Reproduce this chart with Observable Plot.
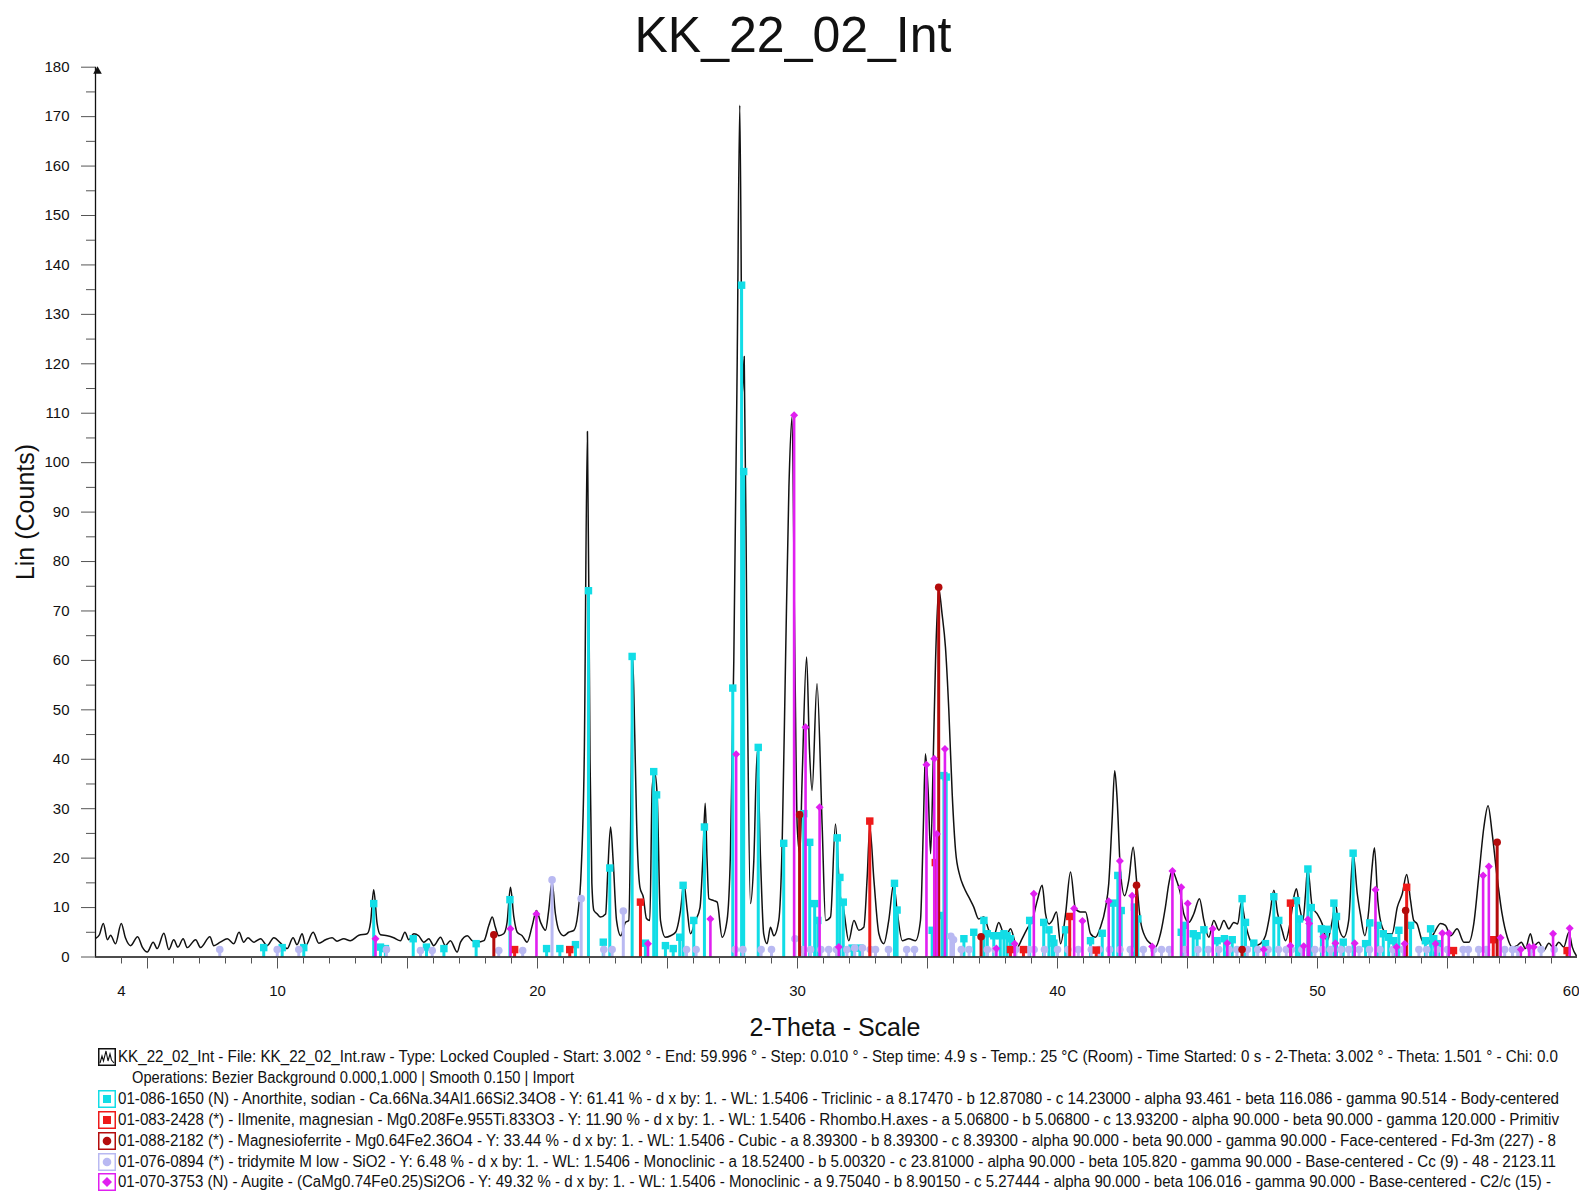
<!DOCTYPE html>
<html>
<head>
<meta charset="utf-8">
<script src="https://cdn.jsdelivr.net/npm/d3@7"></script>
<script src="https://cdn.jsdelivr.net/npm/@observablehq/plot@0.6"></script>
<style>
  body { margin: 0; background: #fff; }
  #page { position: relative; width: 1579px; height: 1194px; overflow: hidden; font-family: "Liberation Sans", Arial, sans-serif; color: #111; background: #fff; }
  #page svg.chart { position: absolute; left: 0; top: 0; }
  .title { position: absolute; left: 0; width: 1586px; top: 10px; text-align: center; font-size: 50px; line-height: 50px; }
  .ytitle { position: absolute; left: 25px; top: 512px; font-size: 25px; line-height: 25px; white-space: nowrap; transform: translate(-50%, -50%) rotate(-90deg); }
  .xtitle { position: absolute; left: 0; width: 1670px; top: 1015px; text-align: center; font-size: 25px; line-height: 25px; }
  .leg { position: absolute; white-space: nowrap; font-size: 16px; line-height: 20px; transform-origin: 0 50%; }
  .icon { position: absolute; }
</style>
</head>
<body>
<div id="page"></div>
<script>
// ---------- DATA ----------
// measured pattern: [2-theta, counts]
const pattern = [
[3.02,3.8],[3.15,4.5],[3.3,6.8],[3.46,3.5],[3.58,4.4],[3.77,2.7],[3.99,6.8],[4.15,3.9],[4.35,2.3],[4.62,4.1],[4.8,2.0],[4.99,1.0],
[5.22,3.0],[5.37,1.7],[5.63,4.8],[5.82,1.5],[6.01,3.5],[6.17,2.0],[6.37,3.7],[6.53,1.9],[6.85,3.5],[7.04,1.9],[7.4,4.1],[7.55,2.3],
[7.8,3.0],[8.07,3.7],[8.32,2.7],[8.52,5.0],[8.7,3.0],[8.86,3.9],[9.09,3.0],[9.35,3.7],[9.6,2.3],[9.86,3.9],[10.12,2.8],[10.37,1.7],
[10.6,3.9],[10.75,2.5],[10.95,4.7],[11.08,2.3],[11.37,5.0],[11.59,2.8],[11.85,3.5],[12.1,3.9],[12.29,3.2],[12.55,3.7],[12.8,3.3],
[13.13,4.4],[13.45,4.7],[13.58,7.0],[13.7,13.6],[13.83,6.8],[13.96,4.5],[14.22,4.3],[14.47,3.9],[14.73,3.3],[14.9,5.0],[15.05,3.5],
[15.24,4.7],[15.43,4.3],[15.63,3.0],[15.82,3.7],[16.01,2.3],[16.27,4.0],[16.46,2.3],[16.65,3.3],[16.91,1.0],[17.04,3.0],[17.3,4.3],
[17.49,3.3],[17.68,3.0],[17.94,3.3],[18.13,6.4],[18.26,8.1],[18.38,6.0],[18.51,4.3],[18.7,4.7],[18.83,7.0],[18.96,14.1],[19.09,8.1],
[19.22,5.0],[19.41,4.3],[19.6,3.0],[19.8,6.4],[19.96,9.4],[20.12,7.0],[20.31,5.4],[20.43,9.4],[20.56,15.1],[20.69,8.7],[20.82,5.4],
[21.01,4.3],[21.2,5.0],[21.4,5.4],[21.55,8.7],[21.68,17.5],[21.8,41],[21.92,106.3],[22.02,40],[22.09,15],[22.17,9.4],[22.3,8.7],
[22.42,8.1],[22.62,8.7],[22.7,16.9],[22.81,26.3],[22.91,19.5],[23.04,7.4],[23.2,4.3],[23.38,7.0],[23.51,7.4],[23.6,34],[23.66,60.7],
[23.74,45],[23.81,27.6],[23.94,14.1],[24.07,12.1],[24.19,7.8],[24.32,7.4],[24.41,34],[24.5,37.4],[24.6,33],[24.73,7.4],[24.92,4.0],
[25.12,4.3],[25.31,5.0],[25.5,9.4],[25.63,14.8],[25.76,9.4],[25.88,4.7],[26.08,7.4],[26.25,10],[26.36,20],[26.45,31.1],[26.52,20],
[26.59,11.8],[26.78,11.4],[26.91,11.1],[27.1,4.0],[27.29,7.4],[27.42,20.9],[27.55,60],[27.68,120],[27.78,172.3],[27.88,114],
[27.95,121.5],[28.06,60],[28.19,10.8],[28.32,19.5],[28.45,41.5],[28.58,19.5],[28.7,4.7],[28.83,2.7],[28.96,6.0],[29.09,4.3],
[29.28,7.4],[29.41,22.9],[29.54,60],[29.67,95],[29.79,109.2],[29.9,60],[29.99,26.3],[30.09,20.9],[30.18,36.4],[30.35,60.7],
[30.46,42],[30.56,33.7],[30.75,55.3],[30.95,26.3],[31.08,7.4],[31.27,8.1],[31.46,26.9],[31.63,12.8],[31.78,9.4],[31.97,3.3],
[32.17,7.4],[32.36,5.4],[32.55,6.0],[32.68,16.1],[32.78,26.3],[32.94,15.5],[33.13,4.7],[33.32,2.7],[33.51,7.4],[33.7,14.8],
[33.83,9.4],[34.03,3.3],[34.28,3.7],[34.54,3.3],[34.73,7.4],[34.84,26.3],[34.92,41.1],[35.03,33],[35.12,20.9],[35.22,39.8],
[35.31,60],[35.43,74.5],[35.56,69.4],[35.69,62.7],[35.82,49.9],[35.95,33],[36.08,21.5],[36.24,16.5],[36.4,14.1],[36.59,12.1],
[36.78,10.1],[36.97,7.7],[37.17,8.1],[37.36,5.4],[37.55,4.3],[37.74,7.0],[37.94,4.7],[38.06,4.7],[38.19,5.7],[38.45,2.0],
[38.64,3.7],[38.83,5.7],[39.03,7.4],[39.22,11.4],[39.41,14.5],[39.54,8.7],[39.67,6.7],[39.8,7.4],[39.96,9.1],[40.12,2.7],
[40.31,8.7],[40.5,17.2],[40.69,9.8],[40.88,9.1],[41.08,9.1],[41.27,4.7],[41.46,4.0],[41.65,6.0],[41.85,10.1],[41.97,14.8],
[42.1,27.6],[42.2,37.7],[42.29,32.3],[42.42,17.5],[42.58,12.4],[42.74,15.5],[42.91,22.2],[43.04,15.5],[43.19,7.4],[43.38,4.0],
[43.58,2.7],[43.77,2.0],[43.96,4.7],[44.15,10.1],[44.28,14.8],[44.41,17.5],[44.58,15.5],[44.73,12.8],[44.86,8.7],[45.05,7.0],
[45.24,8.7],[45.46,11.8],[45.63,7.4],[45.82,4.0],[46.01,7.4],[46.21,5.4],[46.4,7.4],[46.59,5.7],[46.78,7.0],[46.93,6.7],
[47.07,11],[47.23,6.7],[47.42,3.3],[47.62,2.3],[47.81,2.7],[48.0,4.3],[48.17,8.7],[48.32,13.5],[48.47,8.7],[48.64,5.4],
[48.77,3.3],[48.96,7.4],[49.09,12.1],[49.19,13.8],[49.31,10.1],[49.44,7.4],[49.54,12.8],[49.62,18.0],[49.8,10.1],[49.99,8.7],
[50.18,6.7],[50.37,3.3],[50.57,7.4],[50.69,10.8],[50.82,6.0],[51.01,4.0],[51.2,7.4],[51.37,20.9],[51.53,12.8],[51.65,8.7],
[51.82,4.3],[51.97,9.4],[52.1,18.2],[52.19,22.1],[52.32,11.4],[52.49,6.0],[52.68,4.7],[52.87,4.7],[53.07,10.1],[53.26,12.8],
[53.43,16.7],[53.58,11.4],[53.7,7.4],[53.83,6.7],[54.03,3.3],[54.22,2.7],[54.47,4.7],[54.73,6.8],[54.92,6.4],[55.12,4.3],
[55.37,5.7],[55.63,3.0],[55.82,3.0],[56.01,6.7],[56.2,16.1],[56.4,26.3],[56.56,30.6],[56.72,24.9],[56.91,16.1],[57.1,8.7],
[57.3,4.0],[57.49,2.0],[57.68,2.3],[57.84,3.0],[58.0,1.7],[58.19,4.7],[58.32,2.3],[58.51,3.0],[58.7,1.3],[58.9,2.8],
[59.09,1.7],[59.28,3.0],[59.47,2.0],[59.67,5.0],[59.8,2.0],[59.95,0.3]
];

// reference stick patterns: [2-theta, intensity]
const anorthite = [
[9.47,1.9],[10.18,1.9],[11.01,1.9],[13.7,10.8],[13.96,2.0],[14.15,1.7],[15.22,3.7],[15.73,2.0],[16.4,1.7],[17.64,2.7],
[18.94,11.6],[20.35,1.7],[20.86,1.7],[21.46,2.5],[21.96,74.1],[22.53,3.0],[22.78,18.0],[23.64,60.8],[24.15,2.8],[24.47,37.5],
[24.58,32.8],[24.92,2.3],[25.22,1.7],[25.47,4.0],[25.6,14.5],[26.01,7.4],[26.42,26.3],[27.51,54.4],[27.85,135.9],[27.93,98.2],
[28.49,42.4],[29.47,23.0],[30.24,29.0],[30.47,23.2],[30.66,10.8],[30.78,7.4],[31.53,24.1],[31.63,16.1],[31.76,11.1],[32.1,1.8],
[32.4,1.8],[33.73,14.9],[33.83,9.5],[35.18,5.4],[35.56,8.4],[35.63,36.7],[35.72,36.4],[36.4,3.7],[36.78,5.0],[37.17,7.4],
[37.3,4.7],[37.55,4.3],[37.8,4.3],[37.94,4.7],[38.06,4.3],[38.19,3.7],[38.93,7.4],[39.47,7.0],[39.67,5.5],[39.8,3.7],[39.86,2.8],
[40.31,5.5],[41.27,3.3],[41.72,4.8],[42.14,10.9],[42.32,16.5],[42.45,9.4],[42.96,10.1],[43.09,7.7],[44.76,5.0],[44.88,6.4],
[45.22,4.7],[45.37,4.3],[45.63,5.5],[46.14,3.3],[46.42,3.7],[46.72,3.5],[47.1,11.8],[47.23,7.0],[47.55,2.8],[48.0,2.7],
[48.32,12.2],[48.51,7.4],[49.19,11.4],[49.31,7.7],[49.63,17.8],[49.76,10.0],[50.15,5.7],[50.37,5.6],[50.63,10.9],[50.73,8.2],
[50.99,3.0],[51.37,21.0],[51.85,2.7],[52.01,6.9],[52.32,6.4],[52.53,4.7],[52.74,4.0],[52.93,3.3],[53.13,5.4],[53.58,6.4],
[54.15,3.3],[54.35,5.7],[54.47,3.7],[54.67,2.7]
];
const ilmenite = [
[19.12,1.5],[21.24,1.5],[23.96,11.1],[32.78,27.5],[35.3,19.1],[38.19,1.5],[38.69,1.5],[40.47,8.2],[41.49,1.4],[48.96,10.9],
[53.43,14.1],[55.23,1.3],[56.76,3.5],[59.6,1.3]
];
const magnesioferrite = [
[18.32,4.5],[30.08,28.8],[35.43,74.8],[37.06,4.1],[43.04,14.5],[47.1,1.5],[53.39,9.4],[56.91,23.2]
];
const tridymite = [
[7.78,1.5],[9.99,1.5],[10.82,1.5],[14.19,1.5],[15.5,1.3],[15.95,1.3],[18.51,1.3],[19.43,1.3],[20.56,15.6],[21.68,11.8],
[22.55,1.5],[22.87,1.5],[23.3,9.3],[25.73,1.5],[26.1,1.5],[27.6,1.5],[27.9,1.5],[28.6,1.5],[29.0,1.5],[29.9,3.7],[30.2,1.5],
[30.5,1.5],[30.9,1.5],[31.2,1.5],[31.5,1.5],[31.9,1.5],[32.2,1.8],[32.5,1.8],[32.8,1.5],[33.0,1.5],[33.5,1.5],[34.2,1.5],
[34.5,1.5],[35.9,4.2],[36.0,3.5],[36.3,1.5],[36.6,1.5],[37.3,1.5],[37.6,1.5],[38.4,1.5],[38.9,1.5],[39.1,1.5],[39.5,1.5],
[40.0,1.5],[40.4,1.5],[40.8,1.5],[41.3,1.5],[41.6,1.5],[42.0,1.5],[42.4,1.5],[42.8,1.5],[43.3,1.5],[43.7,1.5],[44.0,1.5],
[44.3,1.5],[44.9,1.5],[45.4,1.5],[45.8,1.5],[46.2,1.5],[46.6,1.5],[46.9,1.5],[47.3,1.5],[47.7,1.5],[48.1,1.5],[48.5,1.5],
[48.8,1.5],[49.0,1.5],[49.4,1.5],[49.9,1.5],[50.2,1.5],[50.5,1.5],[50.9,1.5],[51.2,1.5],[51.6,1.5],[52.0,1.5],[52.4,1.5],
[52.9,1.5],[53.3,1.5],[53.9,1.5],[54.2,1.5],[54.6,1.5],[55.0,1.5],[55.6,1.5],[55.8,1.5],[56.2,1.5],[56.5,1.5],[57.2,1.5],
[57.5,1.5],[57.7,1.5],[58.2,1.5],[58.6,1.5],[59.1,1.5]
];
const augite = [
[13.77,3.7],[18.96,5.7],[19.96,8.7],[24.25,2.7],[26.65,7.7],[27.64,41.0],[29.87,109.6],[30.31,46.5],[30.85,30.3],[31.59,2.0],
[34.96,38.9],[35.26,40.1],[35.36,24.9],[35.67,42.1],[37.65,1.7],[38.35,2.7],[39.09,12.8],[40.64,9.8],[40.96,7.3],[41.97,11.3],
[42.4,19.4],[42.87,12.4],[43.64,2.1],[44.42,17.4],[44.76,14.1],[45.01,10.8],[45.97,5.7],[46.53,2.8],[47.93,1.5],[48.96,2.3],
[49.47,2.2],[49.63,7.6],[49.68,6.8],[50.22,4.1],[50.69,2.8],[51.43,2.8],[52.23,13.6],[53.04,2.0],[53.35,2.7],[54.54,2.7],
[54.8,4.8],[55.05,4.8],[56.37,16.5],[56.59,18.3],[57.04,3.9],[57.82,1.5],[58.14,2.0],[58.32,2.0],[59.06,4.7],[59.7,5.8]
];

const xTickLabels = [4, 10, 20, 30, 40, 50, 60];
const yTickLabels = [0,10,20,30,40,50,60,70,80,90,100,110,120,130,140,150,160,170,180];

const titleText = "KK_22_02_Int";
const xTitle = "2-Theta - Scale";
const yTitle = "Lin (Counts)";
const legendLines = [
  "KK_22_02_Int - File: KK_22_02_Int.raw - Type: Locked Coupled - Start: 3.002 ° - End: 59.996 ° - Step: 0.010 ° - Step time: 4.9 s - Temp.: 25 °C (Room) - Time Started: 0 s - 2-Theta: 3.002 ° - Theta: 1.501 ° - Chi: 0.0",
  "Operations: Bezier Background 0.000,1.000 | Smooth 0.150 | Import",
  "01-086-1650 (N) - Anorthite, sodian - Ca.66Na.34Al1.66Si2.34O8 - Y: 61.41 % - d x by: 1. - WL: 1.5406 - Triclinic - a 8.17470 - b 12.87080 - c 14.23000 - alpha 93.461 - beta 116.086 - gamma 90.514 - Body-centered",
  "01-083-2428 (*) - Ilmenite, magnesian - Mg0.208Fe.955Ti.833O3 - Y: 11.90 % - d x by: 1. - WL: 1.5406 - Rhombo.H.axes - a 5.06800 - b 5.06800 - c 13.93200 - alpha 90.000 - beta 90.000 - gamma 120.000 - Primitiv",
  "01-088-2182 (*) - Magnesioferrite - Mg0.64Fe2.36O4 - Y: 33.44 % - d x by: 1. - WL: 1.5406 - Cubic - a 8.39300 - b 8.39300 - c 8.39300 - alpha 90.000 - beta 90.000 - gamma 90.000 - Face-centered - Fd-3m (227) - 8",
  "01-076-0894 (*) - tridymite M low - SiO2 - Y: 6.48 % - d x by: 1. - WL: 1.5406 - Monoclinic - a 18.52400 - b 5.00320 - c 23.81000 - alpha 90.000 - beta 105.820 - gamma 90.000 - Base-centered - Cc (9) - 48 - 2123.11",
  "01-070-3753 (N) - Augite - (CaMg0.74Fe0.25)Si2O6 - Y: 49.32 % - d x by: 1. - WL: 1.5406 - Monoclinic - a 9.75040 - b 8.90150 - c 5.27444 - alpha 90.000 - beta 106.016 - gamma 90.000 - Base-centered - C2/c (15) -"
];

// ---------- STYLE ----------
const phases = [
  {data: anorthite, color: "#12dde6", symbol: "square", r: 4.2, sw: 3},
  {data: tridymite, color: "#b9b9f2", symbol: "circle", r: 3.8, sw: 3},
  {data: ilmenite, color: "#ee1a1a", symbol: "square", r: 4.2, sw: 3},
  {data: magnesioferrite, color: "#b40c0c", symbol: "circle", r: 3.8, sw: 3},
  {data: augite, color: "#e01ff0", symbol: "diamond2", r: 3.6, sw: 2.6}
];

const W = 1579, H = 1000;
const marks = [
  Plot.line(pattern, {x: d => d[0], y: d => d[1], stroke: "#111", strokeWidth: 1.5, curve: "monotone-x"})
];
for (const p of phases) {
  marks.push(Plot.ruleX(p.data, {x: d => d[0], y1: 0, y2: d => d[1], stroke: p.color, strokeWidth: p.sw}));
  marks.push(Plot.dot(p.data, {x: d => d[0], y: d => d[1], symbol: p.symbol, r: p.r, fill: p.color, stroke: "none"}));
}
marks.push(
  Plot.ruleY([0], {stroke: "#111", strokeWidth: 1.3}),
  Plot.ruleX([3], {stroke: "#111", strokeWidth: 1.3}),
  Plot.dot([[3, 180]], {x: d => d[0], y: d => d[1], symbol: "triangle", r: 3.2, fill: "#111", dx: 2, dy: 4}),
  Plot.axisX(d3.range(4, 60), {tickSize: 7, tickFormat: () => "", stroke: "#555", label: null}),
  Plot.axisX(d3.range(5, 60, 5), {tickSize: 12, tickFormat: () => "", stroke: "#555", label: null}),
  Plot.axisX(xTickLabels.filter(v => v < 60), {tickSize: 0, tickPadding: 28, tickFormat: d => String(d), label: null}),
  Plot.axisX(xTickLabels.filter(v => v >= 60), {tickSize: 0, tickPadding: 28, tickFormat: d => String(d), label: null, textAnchor: "end", dx: 2}),
  Plot.axisY(yTickLabels, {tickSize: 14, tickPadding: 12, stroke: "#555", tickFormat: d => String(d), label: null}),
  Plot.axisY(d3.range(5, 180, 10), {tickSize: 9, tickFormat: () => "", stroke: "#555", label: null})
);

const chart = Plot.plot({
  width: W, height: H,
  marginLeft: 95, marginRight: 2, marginTop: 66.7, marginBottom: 43.5,
  x: {domain: [3, 60]},
  y: {domain: [0, 180]},
  style: {fontFamily: '"Liberation Sans", Arial, sans-serif', fontSize: "15px", color: "#111", background: "transparent"},
  marks
});
chart.classList.add("chart");
const page = document.getElementById("page");
page.appendChild(chart);

function addDiv(cls, text) {
  const d = document.createElement("div");
  d.className = cls; d.textContent = text; page.appendChild(d); return d;
}
addDiv("title", titleText);
addDiv("ytitle", yTitle);
addDiv("xtitle", xTitle);

// legend
const legX = [118, 132, 118, 118, 118, 118, 118];
const legEnd = [1558, 574, 1559, 1559, 1556, 1556, 1551];
const legY = [1057, 1078, 1099, 1120, 1141, 1162, 1182];
legendLines.forEach((t, i) => {
  const d = addDiv("leg", t);
  d.style.left = legX[i] + "px";
  d.style.top = (legY[i] - 9.75) + "px";
  const w = d.getBoundingClientRect().width;
  d.style.transform = `scaleX(${(legEnd[i] - legX[i]) / w})`;
});

// legend icons
const ns = "http://www.w3.org/2000/svg";
function icon(row, color, kind) {
  const s = document.createElementNS(ns, "svg");
  s.setAttribute("class", "icon");
  s.setAttribute("width", 18); s.setAttribute("height", 18);
  s.style.left = "98px"; s.style.top = (legY[row] - 9) + "px";
  let inner = `<rect x="0.75" y="0.75" width="16.5" height="16.5" fill="#fff" stroke="${color}" stroke-width="1.5"/>`;
  if (kind === "pattern") inner += `<path d="M2,15 L4,8 L5.5,13 L8,3 L10,13 L12,6 L13.5,12 L16,15" fill="none" stroke="#111" stroke-width="1.1"/>`;
  if (kind === "square") inner += `<rect x="5" y="5" width="8" height="8" fill="${color}"/>`;
  if (kind === "circle") inner += `<circle cx="9" cy="9" r="4.3" fill="${color}"/>`;
  if (kind === "diamond") inner += `<path d="M9,4 L14,9 L9,14 L4,9 Z" fill="${color}"/>`;
  s.innerHTML = inner;
  page.appendChild(s);
}
icon(0, "#111", "pattern");
icon(2, "#12dde6", "square");
icon(3, "#ee1a1a", "square");
icon(4, "#b40c0c", "circle");
icon(5, "#b9b9f2", "circle");
icon(6, "#e01ff0", "diamond");
</script>
</body>
</html>
